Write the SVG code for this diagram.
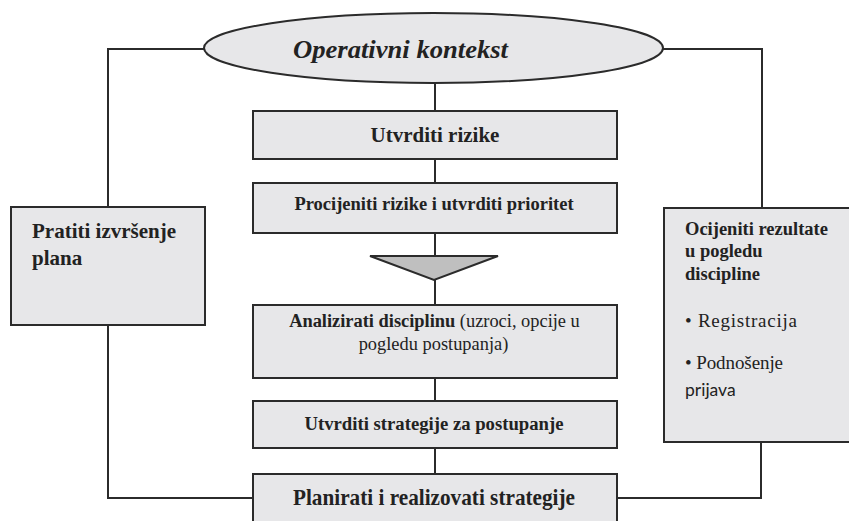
<svg xmlns="http://www.w3.org/2000/svg" width="849" height="521" viewBox="0 0 849 521">
<style>
.box{fill:#e7e7e9;stroke:#2b2b2b;stroke-width:2}
.ln{fill:none;stroke:#2b2b2b;stroke-width:2}
.b{font-family:"Liberation Serif",serif;font-weight:bold;fill:#222}
.r{font-family:"Liberation Serif",serif;fill:#222}
.s{font-family:Lato,"Liberation Sans",sans-serif;fill:#222}
</style>
<rect width="849" height="521" fill="#ffffff"/>
<g id="connectors">
<path class="ln" d="M204 49 H108 V207"/>
<path class="ln" d="M663 49 H762 V208"/>
<path class="ln" d="M108 325 V498 H253"/>
<path class="ln" d="M761 418 V498 H617"/>
<path class="ln" d="M435 83 V111"/>
<path class="ln" d="M435 159 V183"/>
<path class="ln" d="M435 233 V256"/>
<path class="ln" d="M435 280 V305"/>
<path class="ln" d="M435 378 V401"/>
<path class="ln" d="M435 448 V474"/>
</g>
<g id="operativni">
<ellipse cx="433.5" cy="48" rx="229.5" ry="35" class="box"/>
<text x="293" y="58" class="b" font-style="italic" font-size="26" textLength="215" lengthAdjust="spacingAndGlyphs">Operativni kontekst</text>
</g>
<g id="pratiti">
<rect x="11" y="207" width="194" height="118" class="box"/>
<text class="b" font-size="21"><tspan x="32" y="238">Pratiti izvršenje</tspan><tspan x="32" y="265">plana</tspan></text>
</g>
<g id="ocijeniti">
<rect x="664" y="208" width="200" height="234" class="box"/>
<text class="b" font-size="18.5"><tspan x="685" y="235">Ocijeniti rezultate</tspan><tspan x="685" y="257">u pogledu</tspan><tspan x="685" y="280">discipline</tspan></text>
<text class="r" font-size="19"><tspan x="685" y="327" textLength="112">• Registracija</tspan><tspan x="685" y="369" textLength="98">• Podnošenje</tspan></text>
<text class="s" font-size="17.5" x="685" y="396">prijava</text>
</g>
<g id="utvrditi-rizike">
<rect x="253" y="111" width="364" height="48" class="box"/>
<text x="435" y="142" class="b" font-size="21" text-anchor="middle">Utvrditi rizike</text>
</g>
<g id="procijeniti">
<rect x="253" y="183" width="364" height="50" class="box"/>
<text x="434" y="210" class="b" font-size="18.5" text-anchor="middle">Procijeniti rizike i utvrditi prioritet</text>
</g>
<g id="trokut">
<polygon points="370,256 498,256 434,280" fill="#bfbfbf" stroke="#2b2b2b" stroke-width="2" stroke-linejoin="miter"/>
</g>
<g id="analizirati">
<rect x="253" y="305" width="364" height="73" class="box"/>
<text x="434.5" y="327" class="r" font-size="18.4" text-anchor="middle"><tspan font-weight="bold">Analizirati disciplinu</tspan> (uzroci, opcije u</text>
<text x="433.5" y="350" class="r" font-size="18.4" text-anchor="middle">pogledu postupanja)</text>
</g>
<g id="strategije">
<rect x="253" y="401" width="364" height="47" class="box"/>
<text x="434" y="430" class="b" font-size="18.7" text-anchor="middle">Utvrditi strategije za postupanje</text>
</g>
<g id="planirati">
<rect x="253" y="474" width="364" height="60" class="box"/>
<text x="434" y="505" class="b" font-size="23" text-anchor="middle" textLength="282" lengthAdjust="spacingAndGlyphs">Planirati i realizovati strategije</text>
</g>
</svg>
